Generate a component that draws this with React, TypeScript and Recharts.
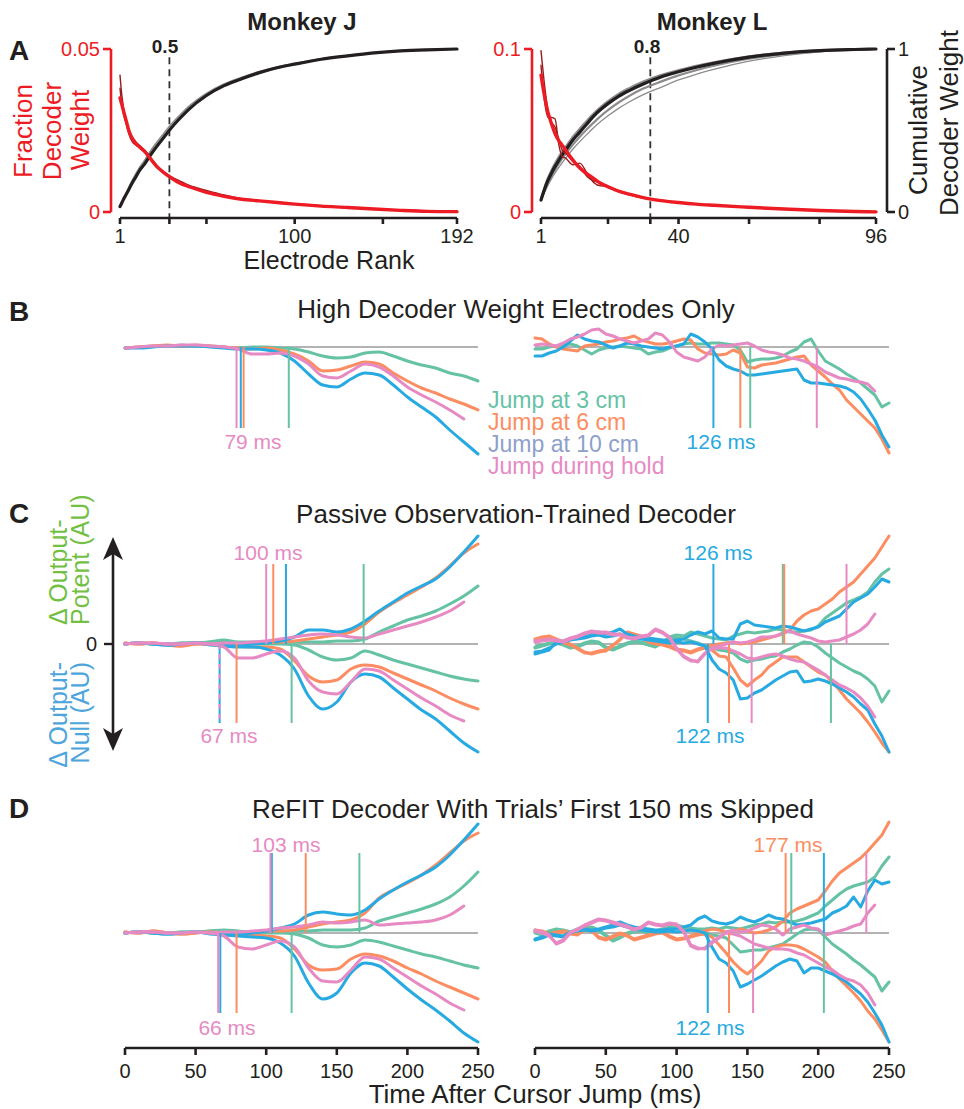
import React from 'react';
import { LineChart, Line, XAxis, YAxis, ReferenceLine } from 'recharts';

const FONT = "'Liberation Sans', Arial, Helvetica, sans-serif";
const GREEN = '#66c2a5';
const ORANGE = '#fc8d62';
const BLUE = '#27aae1';
const PINK = '#e78ac3';
const LAVENDER = '#8da0cb';
const RED = '#ed1c24';
const DARKRED = '#9b1c1f';
const INK = '#231f20';
const GREY = '#8c8c8c';
const ZERO = '#9a9a9a';
const COND_COLORS = [GREEN, ORANGE, BLUE, PINK];

// ---------- Panel A data ----------
const rankJ = [1, 2, 3, 4, 5, 6, 8, 10, 12, 15, 18, 22, 26, 30, 35, 40, 50, 60, 70, 80, 90, 100, 115, 130, 145, 160, 175, 192];
const fracJ = [0.035, 0.033, 0.031, 0.029, 0.027, 0.025, 0.0225, 0.021, 0.02, 0.0185, 0.0165, 0.0139, 0.012, 0.0105, 0.0088, 0.0078, 0.006, 0.0048, 0.0039, 0.0034, 0.0029, 0.0024, 0.0018, 0.0014, 0.0009, 0.0005, 0.0002, 0.0001];
const fracJb = [0.042, 0.036, 0.032, 0.029, 0.026, 0.024, 0.0215, 0.0205, 0.0198, 0.019, 0.017, 0.0142, 0.0118, 0.0102, 0.0092, 0.008, 0.0063, 0.0049, 0.004, 0.0034, 0.0028, 0.0024, 0.0018, 0.0013, 0.0009, 0.0005, 0.0002, 0.0001];
const fracJc = [0.038, 0.033, 0.03, 0.028, 0.0265, 0.025, 0.023, 0.0215, 0.0205, 0.0188, 0.0162, 0.0135, 0.0122, 0.0108, 0.0095, 0.0082, 0.0066, 0.0052, 0.0041, 0.0034, 0.0029, 0.0025, 0.0019, 0.0014, 0.001, 0.0006, 0.0003, 0.0001];
const cumJ = [0.033, 0.055, 0.078, 0.098, 0.118, 0.138, 0.18, 0.215, 0.253, 0.295, 0.345, 0.405, 0.46, 0.515, 0.575, 0.63, 0.715, 0.775, 0.818, 0.855, 0.885, 0.907, 0.937, 0.958, 0.976, 0.988, 0.995, 1];
const cumJb = [0.035, 0.06, 0.085, 0.105, 0.128, 0.15, 0.195, 0.235, 0.272, 0.318, 0.37, 0.43, 0.485, 0.538, 0.595, 0.648, 0.728, 0.785, 0.826, 0.862, 0.89, 0.911, 0.94, 0.96, 0.977, 0.989, 0.996, 1];

const rankL = [1, 2, 3, 4, 5, 6, 7, 8, 10, 12, 14, 16, 18, 20, 23, 26, 30, 35, 40, 45, 50, 60, 70, 80, 90, 96];
const fracL = [0.084, 0.071, 0.061, 0.054, 0.048, 0.044, 0.041, 0.038, 0.032, 0.027, 0.0235, 0.0205, 0.0175, 0.0155, 0.0128, 0.011, 0.0088, 0.007, 0.0058, 0.0048, 0.0041, 0.0029, 0.0018, 0.0009, 0.0003, 0.0001];
const fracLb = [0.099, 0.078, 0.062, 0.055, 0.052, 0.045, 0.038, 0.036, 0.031, 0.028, 0.022, 0.019, 0.018, 0.015, 0.013, 0.011, 0.009, 0.0072, 0.006, 0.0049, 0.0042, 0.003, 0.0019, 0.001, 0.0004, 0.0001];
const fracLc = [0.09, 0.068, 0.058, 0.058, 0.057, 0.042, 0.034, 0.033, 0.029, 0.03, 0.024, 0.018, 0.016, 0.0158, 0.0125, 0.0105, 0.0085, 0.0068, 0.0056, 0.0047, 0.004, 0.0028, 0.0017, 0.0009, 0.0003, 0.0001];
const cumL = [0.074, 0.14, 0.195, 0.24, 0.28, 0.315, 0.35, 0.38, 0.44, 0.49, 0.54, 0.59, 0.63, 0.665, 0.71, 0.745, 0.785, 0.828, 0.86, 0.888, 0.912, 0.95, 0.975, 0.99, 0.997, 1];
const cumLb = [0.07, 0.12, 0.165, 0.205, 0.24, 0.272, 0.302, 0.33, 0.385, 0.432, 0.476, 0.518, 0.556, 0.59, 0.636, 0.675, 0.72, 0.765, 0.81, 0.845, 0.875, 0.925, 0.96, 0.983, 0.995, 1];
const cumLc = [0.07, 0.13, 0.18, 0.222, 0.26, 0.295, 0.328, 0.357, 0.412, 0.462, 0.508, 0.55, 0.59, 0.625, 0.672, 0.712, 0.757, 0.8, 0.838, 0.87, 0.897, 0.94, 0.968, 0.986, 0.996, 1];
const cumLd = [0.08, 0.15, 0.21, 0.258, 0.3, 0.337, 0.37, 0.4, 0.46, 0.512, 0.56, 0.605, 0.645, 0.68, 0.725, 0.76, 0.8, 0.84, 0.87, 0.897, 0.918, 0.955, 0.978, 0.992, 0.998, 1];

const rankTicksJ = [1, 29, 50, 100, 150, 192];
const rankLabelsJ = [1, 100, 192];
const rankTicksL = [1, 20, 32, 40, 60, 80, 96];
const rankLabelsL = [1, 40, 96];
const halfWeightRankJ = 29;
const eightyWeightRankL = 32;

// ---------- Time-course data ----------
const tCoarse = [0, 10, 20, 30, 40, 50, 60, 70, 80, 90, 100, 110, 120, 130, 140, 150, 160, 170, 180, 190, 200, 210, 220, 230, 240, 250];
const tFine = [0, 5, 10, 15, 20, 25, 30, 35, 40, 45, 50, 55, 60, 65, 70, 75, 80, 85, 90, 95, 100, 105, 110, 115, 120, 125, 130, 135, 140, 145, 150, 155, 160, 165, 170, 175, 180, 185, 190, 195, 200, 205, 210, 215, 220, 225, 230, 235, 240, 245, 250];
const timeTicks = [0, 50, 100, 150, 200, 250];

// B: high decoder weight electrodes only (single projection)
const bLg = [-1, 0, 1, 1, 2, 1, 1, 0, -1, 0, 0, -1, -2, -5, -9, -11, -10, -6, -5, -9, -14, -18, -21, -26, -29, -34];
const bLo = [-1, 0, 1, 2, 1, 2, 1, 0, -1, -2, -1, -3, -7, -14, -24, -23, -19, -15, -17, -26, -34, -41, -46, -52, -57, -63];
const bLb = [-1, -1, 0, 1, 1, 1, 0, -1, -2, -2, -3, -6, -14, -27, -38, -40, -32, -26, -28, -38, -50, -60, -70, -83, -95, -107];
const bLp = [-1, 0, 1, 1, 2, 2, 1, 0, -2, -7, -7, -6, -9, -17, -29, -31, -24, -17, -20, -29, -40, -48, -55, -63, -72, null];

const bRg = [-2, -2, 0, 1, 2, 3, 1, -3, -7, -3, -1, 0, 1, 0, -1, -2, -7, -5, -4, -1, 1, 3, 4, 3, 3, 4, 4, 3, 2, -3, -15, -13, -12, -12, -11, -9, -5, -2, 5, 8, -4, -14, -18, -22, -27, -31, -36, -42, -48, -60, -56];
const bRo = [9, 8, 3, 0, -2, -3, -4, 1, 2, 3, 5, 6, 8, 9, 11, 7, 5, 3, 3, 4, 6, 8, 7, -2, -6, -7, -8, -7, -3, -6, -20, -21, -18, -17, -16, -14, -12, -10, -9, -18, -24, -30, -37, -43, -53, -60, -67, -74, -81, -92, -106];
const bRb = [-9, -9, -6, -4, 0, 6, 12, 8, 6, 5, 2, -1, 1, 4, 3, 1, 0, -1, -2, 0, 1, 3, 13, 10, 5, -2, -13, -19, -22, -24, -28, -28, -27, -26, -25, -24, -23, -22, -33, -36, -36, -37, -38, -39, -41, -45, -52, -62, -73, -88, -100];
const bRp = [2, 3, 2, 1, 4, 8, 10, 13, 17, 18, 13, 11, 8, 6, 4, 6, 8, 14, 12, 5, -5, -10, -12, -14, -10, -2, 2, 1, 2, 3, 4, 1, -3, -5, -6, -8, -11, -12, -14, -17, -20, -25, -28, -31, -32, -34, -35, -37, -44, null, null];

// C: passive observation-trained decoder (P = output-potent, N = output-null)
const cLgP = [0, 1, 0, 0, 1, 1, 2, 4, 2, 2, 2, 2, 2, 2, 2, 3, 3, 5, 12, 18, 24, 28, 33, 40, 48, 58];
const cLoP = [1, 0, 1, -1, -2, 0, 0, -1, 0, 1, 2, 2, 3, 5, 7, 9, 12, 20, 32, 41, 49, 57, 66, 78, 91, 100];
const cLbP = [0, 1, 0, -1, 0, 1, 0, -1, -1, 0, 1, 3, 7, 14, 14, 12, 15, 23, 33, 42, 51, 58, 65, 77, 92, 108];
const cLpP = [0, 1, 1, 0, 0, 1, 0, 1, 1, 2, 3, 5, 7, 9, 10, 9, 7, 6, 10, 14, 18, 22, 27, 33, 42, null];
const cLgN = [0, 1, 0, 0, 1, 1, 2, 2, 1, 0, 0, 0, -1, -6, -13, -16, -14, -7, -11, -16, -20, -24, -28, -32, -35, -37];
const cLoN = [1, 0, 1, -1, -2, 0, 0, -1, -2, -3, -3, -5, -17, -32, -38, -36, -25, -21, -23, -29, -35, -41, -47, -54, -60, -65];
const cLbN = [0, 1, 0, -1, 0, 1, -1, -2, -3, -3, -5, -11, -25, -52, -65, -58, -38, -30, -33, -44, -55, -66, -75, -87, -99, -108];
const cLpN = [0, 1, 1, 0, 0, 1, 0, -3, -14, -14, -10, -7, -14, -37, -48, -50, -38, -25, -27, -36, -45, -54, -62, -71, -77, null];

const cRgP = [-4, -2, 0, 2, 0, -3, -2, 1, 3, 2, -3, -5, -2, 1, 3, 2, 0, -2, 2, 7, 9, 8, 12, 10, 8, 6, 5, 4, 8, 10, 12, 11, 12, 13, 15, 14, 12, 12, 13, 14, 18, 26, 31, 36, 41, 44, 47, 52, 62, 70, 75];
const cRoP = [5, 7, 8, 5, 2, 0, -4, -8, -10, -8, -7, -2, 5, 12, 10, 8, 3, 1, 0, -2, -5, -6, -8, -5, -3, -1, 0, 1, 2, 0, 1, 2, 4, 6, 8, 10, 14, 23, 29, 33, 35, 40, 45, 52, 57, 62, 70, 78, 86, 97, 108];
const cRbP = [-10, -8, -6, 2, 3, 5, 6, 8, 10, 12, 10, 12, 15, 10, 8, 7, 6, 5, 4, 3, 4, 5, 9, 12, 10, 13, 6, 5, 5, 20, 23, 19, 18, 17, 16, 18, 17, 15, 13, 15, 17, 22, 25, 28, 35, 42, 46, 50, 57, 65, 62];
const cRpP = [3, 4, 5, 4, 3, 6, 8, 11, 13, 12, 12, 10, 10, 7, 6, 8, 9, 15, 12, 7, -4, -12, -16, -18, -10, -4, -2, 0, 2, 1, 2, 4, 7, 7, 8, 11, 13, 10, 8, 6, 3, 2, 3, 4, 7, 10, 14, 20, 30, null, null];
const cRgN = [-3, -1, 1, 1, -1, -4, -3, 0, 2, 1, -4, -6, -3, 0, 2, 1, -1, -3, 1, 5, 6, 5, 3, 1, -2, -4, -6, -7, -9, -15, -18, -16, -15, -13, -12, -8, -5, -1, 2, 1, -3, -9, -14, -19, -23, -27, -30, -35, -42, -58, -47];
const cRoN = [4, 6, 7, 4, 1, -1, -5, -9, -9, -7, -6, -1, 4, 11, 9, 7, 2, 0, -1, -3, -6, -7, -9, -6, -4, -6, -12, -13, -24, -36, -42, -36, -31, -23, -18, -13, -13, -13, -18, -23, -28, -31, -38, -46, -55, -62, -69, -78, -88, -99, -108];
const cRbN = [-8, -7, -4, 0, 2, 4, 5, 6, 8, 9, 7, 8, 10, 7, 6, 5, 4, 3, 2, 1, 2, 1, 2, 0, -2, -16, -25, -29, -36, -55, -54, -49, -46, -41, -36, -32, -28, -27, -38, -37, -35, -37, -40, -44, -48, -53, -60, -66, -80, -92, -108];
const cRpN = [2, 3, 4, 3, 2, 5, 7, 10, 12, 11, 11, 9, 9, 6, 5, 7, 8, 14, 11, 6, -5, -13, -17, -17, -9, -5, -4, -4, -7, -10, -14, -15, -13, -11, -10, -12, -15, -17, -18, -22, -26, -31, -36, -41, -44, -48, -54, -62, -73, null, null];

// D: ReFIT decoder, first 150 ms skipped
const dLgP = [0, 1, 0, 0, 1, 1, 2, 3, 2, 1, 1, 2, 2, 2, 3, 3, 3, 5, 12, 16, 20, 24, 29, 36, 47, 61];
const dLoP = [1, 0, 2, 0, -1, 0, 1, 0, 0, 1, 2, 2, 3, 6, 9, 11, 13, 20, 35, 43, 50, 58, 68, 80, 92, 100];
const dLbP = [0, 1, 0, -1, 0, 1, 0, -1, -1, 0, 2, 5, 9, 18, 21, 19, 18, 23, 34, 43, 51, 58, 66, 78, 93, 109];
const dLpP = [0, 1, 1, 0, 0, 1, 0, 1, 1, 2, 3, 5, 6, 8, 11, 10, 11, 13, 8, 9, 10, 11, 13, 18, 27, null];
const dLgN = [0, 1, 0, 0, 1, 1, 2, 2, 1, 0, 0, 0, -1, -5, -12, -14, -12, -7, -9, -13, -17, -21, -24, -28, -32, -35];
const dLoN = [1, 0, 2, 0, -1, 0, 1, 0, -1, -2, -3, -5, -16, -32, -37, -36, -26, -21, -23, -28, -35, -41, -48, -54, -60, -66];
const dLbN = [0, 1, 0, -1, 0, 1, -1, -2, -3, -4, -5, -10, -23, -50, -66, -60, -40, -30, -33, -44, -56, -67, -77, -88, -100, -109];
const dLpN = [0, 1, 1, 0, 0, 1, 0, -3, -14, -16, -12, -8, -14, -35, -48, -49, -37, -24, -26, -35, -44, -53, -61, -70, -77, null];

const dRgP = [0, -2, 1, 3, 2, 0, 3, 5, 6, 3, -2, -7, -4, 0, 2, 3, 1, 2, 4, 6, 8, 6, 5, 4, 4, 5, 4, 6, 5, 4, 6, 8, 9, 11, 10, 11, 11, 12, 14, 17, 20, 27, 33, 39, 44, 47, 49, 51, 56, 67, 76];
const dRoP = [3, 2, -1, 1, 2, 0, -1, 4, 3, -4, -6, -3, 0, -2, -6, -4, -2, 0, 1, -3, -6, -5, -3, 0, 2, 4, 3, 1, 2, 4, 2, 0, 1, 3, 6, 12, 20, 24, 27, 30, 33, 42, 52, 60, 65, 70, 75, 82, 90, 98, 111];
const dRbP = [-7, -5, -2, -3, -4, 0, 3, 4, 3, 4, 6, 8, 11, 8, 6, 5, 4, 3, 3, 4, 4, 6, 8, 14, 17, 12, 10, 9, 11, 16, 13, 11, 14, 18, 15, 14, 11, 8, 9, 10, 12, 14, 20, 23, 27, 36, 26, 42, 53, 49, 51];
const dRpP = [3, 1, -2, -11, -8, 0, 4, 8, 11, 14, 13, 11, 9, 7, 4, 6, 11, 9, 8, 10, 9, 2, -12, -15, -16, -10, -5, 1, 3, 1, 2, 5, 8, 7, 4, -2, 4, 6, 8, 5, 4, -2, 0, 2, 4, 7, 9, 20, 28, null, null];
const dRgN = [1, -1, 2, 4, 3, 1, 4, 6, 5, 2, -3, -8, -5, -1, 1, 2, 0, 1, 3, 5, 6, 4, 3, 1, 0, -2, -3, -5, -12, -19, -18, -17, -17, -15, -13, -11, -6, -1, 3, 4, 3, -4, -11, -16, -21, -27, -32, -38, -44, -58, -49];
const dRoN = [2, 1, -2, 0, 1, -1, -2, 3, 2, -5, -7, -4, -1, -3, -7, -5, -3, -1, 0, -4, -7, -6, -4, -2, -1, -4, -12, -20, -29, -36, -41, -35, -28, -18, -14, -12, -12, -13, -16, -20, -24, -29, -38, -46, -53, -60, -68, -78, -86, -97, -109];
const dRbN = [-6, -4, -1, -2, -3, 1, 2, 3, 2, 3, 5, 6, 8, 6, 4, 3, 2, 1, 1, 2, 1, 2, 3, 2, 0, -14, -26, -30, -38, -54, -51, -47, -43, -38, -33, -29, -26, -28, -40, -35, -35, -38, -41, -45, -49, -55, -61, -69, -80, -92, -109];
const dRpN = [2, 0, -3, -10, -7, 1, 3, 7, 10, 13, 12, 10, 8, 6, 3, 5, 10, 8, 7, 9, 8, 1, -13, -16, -15, -9, -4, 0, -1, -3, -7, -11, -13, -15, -16, -16, -17, -20, -22, -26, -30, -34, -37, -42, -46, -48, -52, -60, -72, null, null];

// Divergence onsets (ms), order: 3 cm, 6 cm, 10 cm, during hold
const bLeftOnsetN = [116, 84, 82, 79];
const bRightOnsetN = [152, 145, 126, 199];
const cLeftOnsetP = [169, 105, 114, 100];
const cLeftOnsetN = [118, 79, 67, 67];
const cRightOnsetP = [175, 176, 126, 220];
const cRightOnsetN = [209, 137, 122, 153];
const dLeftOnsetP = [166, 128, 104, 103];
const dLeftOnsetN = [118, 79, 67.5, 66];
const dRightOnsetP = [181, 177, 204, 234];
const dRightOnsetN = [204, 137, 122, 154];

const legendLabels = ['Jump at 3 cm', 'Jump at 6 cm', 'Jump at 10 cm', 'Jump during hold'];

// ---------- tables built from arrays ----------
const J_DATA = rankJ.map((r, i) => ({ r, f: fracJ[i], f2: fracJb[i], f3: fracJc[i], c: cumJ[i], c2: cumJb[i] }));
const L_DATA = rankL.map((r, i) => ({ r, f: fracL[i], f2: fracLb[i], f3: fracLc[i], c: cumL[i], c2: cumLb[i], c3: cumLc[i], c4: cumLd[i] }));

const single = (ts: number[], g: any[], o: any[], b: any[], p: any[]) =>
  ts.map((t, i) => ({ t, g: g[i], o: o[i], b: b[i], p: p[i] }));
const dual = (ts: number[], P: any[][], N: any[][]) =>
  ts.map((t, i) => ({
    t,
    gP: P[0][i], oP: P[1][i], bP: P[2][i], pP: P[3][i],
    gN: N[0][i], oN: N[1][i], bN: N[2][i], pN: N[3][i],
  }));

const B_LEFT = single(tCoarse, bLg, bLo, bLb, bLp);
const B_RIGHT = single(tFine, bRg, bRo, bRb, bRp);
const C_LEFT = dual(tCoarse, [cLgP, cLoP, cLbP, cLpP], [cLgN, cLoN, cLbN, cLpN]);
const C_RIGHT = dual(tFine, [cRgP, cRoP, cRbP, cRpP], [cRgN, cRoN, cRbN, cRpN]);
const D_LEFT = dual(tCoarse, [dLgP, dLoP, dLbP, dLpP], [dLgN, dLoN, dLbN, dLpN]);
const D_RIGHT = dual(tFine, [dRgP, dRoP, dRbP, dRpP], [dRgN, dRoN, dRbN, dRpN]);

const SINGLE_KEYS = ['g', 'o', 'b', 'p'];
const SINGLE_COLORS = [GREEN, ORANGE, BLUE, PINK];
const DUAL_KEYS = ['gP', 'gN', 'oP', 'oN', 'bP', 'bN', 'pP', 'pN'];
const DUAL_COLORS = [GREEN, GREEN, ORANGE, ORANGE, BLUE, BLUE, PINK, PINK];

// ---------- tick renderers ----------
const makeRankTick = (labels: number[]) => (props: any) => {
  const { x, y, payload } = props;
  if (!labels.includes(payload.value)) return <g />;
  return (
    <text x={x} y={y + 25} textAnchor="middle" fontSize={20} fill={INK} fontFamily={FONT}>
      {payload.value}
    </text>
  );
};
const fracTick = (props: any) => (
  <text x={props.x - 10} y={props.y} dy="0.36em" textAnchor="end" fontSize={20} fill={RED} fontFamily={FONT}>
    {props.payload.value}
  </text>
);
const cumTick = (props: any) => (
  <text x={props.x + 12} y={props.y} dy="0.36em" textAnchor="start" fontSize={20} fill={INK} fontFamily={FONT}>
    {props.payload.value}
  </text>
);
const timeTick = (props: any) => (
  <text x={props.x} y={props.y + 23} textAnchor="middle" fontSize={20} fill={INK} fontFamily={FONT}>
    {props.payload.value}
  </text>
);
const zeroTick = (props: any) => (
  <text x={props.x - 19} y={props.y} dy="0.36em" textAnchor="end" fontSize={20} fill={INK} fontFamily={FONT}>
    {props.payload.value}
  </text>
);

const lineProps = { dot: false, activeDot: false, isAnimationActive: false, strokeLinejoin: 'round' as const, strokeLinecap: 'round' as const };

function TimePanel(props: any) {
  const { left, top, width, height, margin, domain, data, keys, colors, lineType, up, down, upTo, downTo, xAxis, zero, dashedPink } = props;
  return (
    <div style={{ position: 'absolute', left, top }}>
      <LineChart width={width} height={height} data={data} margin={margin}>
        {xAxis ? (
          <XAxis
            type="number"
            dataKey="t"
            domain={[0, 250]}
            ticks={timeTicks}
            interval={0}
            height={40}
            tickSize={7}
            tickMargin={0}
            stroke={INK}
            axisLine={{ stroke: INK, strokeWidth: 2.6 }}
            tickLine={{ stroke: INK, strokeWidth: 2.6 }}
            tick={timeTick}
          />
        ) : (
          <XAxis type="number" dataKey="t" domain={[0, 250]} hide />
        )}
        {zero ? (
          <YAxis
            type="number"
            domain={domain}
            ticks={[0]}
            interval={0}
            width={30}
            tickSize={9}
            tickMargin={0}
            axisLine={false}
            tickLine={{ stroke: INK, strokeWidth: 2.4, transform: 'translate(-12,0)' }}
            tick={zeroTick}
          />
        ) : (
          <YAxis type="number" domain={domain} hide />
        )}
        <ReferenceLine y={0} stroke={ZERO} strokeWidth={1.6} />
        {keys.map((k: string, i: number) => (
          <Line key={k} dataKey={k} type={lineType} stroke={colors[i]} strokeWidth={3} {...lineProps} />
        ))}
        {(up || []).map((t: number, i: number) => (
          <ReferenceLine
            key={'u' + i}
            segment={[{ x: t, y: 0 }, { x: t, y: upTo }]}
            stroke={COND_COLORS[i]}
            strokeWidth={2}
            ifOverflow="visible"
          />
        ))}
        {(down || []).map((t: number, i: number) => (
          <ReferenceLine
            key={'d' + i}
            segment={[{ x: t, y: 0 }, { x: t, y: downTo }]}
            stroke={COND_COLORS[i]}
            strokeWidth={2}
            strokeDasharray={dashedPink && i === 3 ? '5 5' : undefined}
            ifOverflow="visible"
          />
        ))}
      </LineChart>
    </div>
  );
}

function T(props: any) {
  const { x, y, children, size = 26, fill = INK, anchor = 'middle', weight = 'normal', rotate } = props;
  if (rotate) {
    return (
      <text transform={`translate(${x},${y}) rotate(-90)`} textAnchor={anchor} fontSize={size} fill={fill} fontWeight={weight} fontFamily={FONT}>
        {children}
      </text>
    );
  }
  return (
    <text x={x} y={y} textAnchor={anchor} fontSize={size} fill={fill} fontWeight={weight} fontFamily={FONT}>
      {children}
    </text>
  );
}

const LEFT_M = { left: 125, right: 22 };
const RIGHT_M = { left: 35, right: 75 };

export default function App() {
  return (
    <div style={{ position: 'absolute', left: 0, top: 0, width: 964, height: 1109, background: '#fff', fontFamily: FONT, overflow: 'hidden' }}>
      {/* Panel A - Monkey J */}
      <div style={{ position: 'absolute', left: 0, top: 0 }}>
        <LineChart width={480} height={280} data={J_DATA} margin={{ top: 49, right: 23, bottom: 28, left: 80 }}>
          <XAxis
            type="number"
            dataKey="r"
            domain={[1, 192]}
            ticks={rankTicksJ}
            interval={0}
            height={40}
            tickSize={6}
            tickMargin={0}
            stroke={INK}
            axisLine={{ stroke: INK, strokeWidth: 2.6, transform: 'translate(0,6)' }}
            tickLine={{ stroke: INK, strokeWidth: 2.6, transform: 'translate(0,6)' }}
            tick={makeRankTick(rankLabelsJ)}
          />
          <YAxis
            yAxisId="frac"
            type="number"
            domain={[0, 0.05]}
            ticks={[0, 0.05]}
            interval={0}
            width={40}
            tickSize={8}
            tickMargin={2}
            stroke={RED}
            axisLine={{ stroke: RED, strokeWidth: 2.6, transform: 'translate(-9,0)' }}
            tickLine={{ stroke: RED, strokeWidth: 2.6, transform: 'translate(-9,0)' }}
            tick={fracTick}
          />
          <YAxis yAxisId="cum" orientation="right" type="number" domain={[0, 1]} hide />
          <ReferenceLine
            yAxisId="frac"
            segment={[{ x: halfWeightRankJ, y: 0.0475 }, { x: halfWeightRankJ, y: -0.0018 }]}
            stroke="#333"
            strokeWidth={1.8}
            strokeDasharray="7 5"
            ifOverflow="visible"
          />
          <Line yAxisId="cum" dataKey="c2" type="monotone" stroke={GREY} strokeWidth={1.6} {...lineProps} />
          <Line yAxisId="cum" dataKey="c" type="monotone" stroke={INK} strokeWidth={3.2} {...lineProps} />
          <Line yAxisId="frac" dataKey="f2" type="monotone" stroke={DARKRED} strokeWidth={1.4} {...lineProps} />
          <Line yAxisId="frac" dataKey="f3" type="monotone" stroke={DARKRED} strokeWidth={1.4} {...lineProps} />
          <Line yAxisId="frac" dataKey="f" type="monotone" stroke={RED} strokeWidth={3.4} {...lineProps} />
        </LineChart>
      </div>

      {/* Panel A - Monkey L */}
      <div style={{ position: 'absolute', left: 480, top: 0 }}>
        <LineChart width={484} height={280} data={L_DATA} margin={{ top: 49, right: 48, bottom: 28, left: 21 }}>
          <XAxis
            type="number"
            dataKey="r"
            domain={[1, 96]}
            ticks={rankTicksL}
            interval={0}
            height={40}
            tickSize={6}
            tickMargin={0}
            stroke={INK}
            axisLine={{ stroke: INK, strokeWidth: 2.6, transform: 'translate(0,6)' }}
            tickLine={{ stroke: INK, strokeWidth: 2.6, transform: 'translate(0,6)' }}
            tick={makeRankTick(rankLabelsL)}
          />
          <YAxis
            yAxisId="frac"
            type="number"
            domain={[0, 0.1]}
            ticks={[0, 0.1]}
            interval={0}
            width={40}
            tickSize={8}
            tickMargin={2}
            stroke={RED}
            axisLine={{ stroke: RED, strokeWidth: 2.6, transform: 'translate(-9,0)' }}
            tickLine={{ stroke: RED, strokeWidth: 2.6, transform: 'translate(-9,0)' }}
            tick={fracTick}
          />
          <YAxis
            yAxisId="cum"
            orientation="right"
            type="number"
            domain={[0, 1]}
            ticks={[0, 1]}
            interval={0}
            width={40}
            tickSize={8}
            tickMargin={2}
            stroke={INK}
            axisLine={{ stroke: INK, strokeWidth: 2.6, transform: 'translate(11,0)' }}
            tickLine={{ stroke: INK, strokeWidth: 2.6, transform: 'translate(11,0)' }}
            tick={cumTick}
          />
          <ReferenceLine
            yAxisId="cum"
            segment={[{ x: eightyWeightRankL, y: 0.95 }, { x: eightyWeightRankL, y: -0.036 }]}
            stroke="#333"
            strokeWidth={1.8}
            strokeDasharray="7 5"
            ifOverflow="visible"
          />
          <Line yAxisId="cum" dataKey="c2" type="monotone" stroke={GREY} strokeWidth={1.3} {...lineProps} />
          <Line yAxisId="cum" dataKey="c3" type="monotone" stroke={GREY} strokeWidth={2.2} {...lineProps} />
          <Line yAxisId="cum" dataKey="c4" type="monotone" stroke={GREY} strokeWidth={2.2} {...lineProps} />
          <Line yAxisId="cum" dataKey="c" type="monotone" stroke={INK} strokeWidth={3.2} {...lineProps} />
          <Line yAxisId="frac" dataKey="f2" type="monotone" stroke={DARKRED} strokeWidth={1.4} {...lineProps} />
          <Line yAxisId="frac" dataKey="f3" type="monotone" stroke={DARKRED} strokeWidth={1.4} {...lineProps} />
          <Line yAxisId="frac" dataKey="f" type="monotone" stroke={RED} strokeWidth={3.4} {...lineProps} />
        </LineChart>
      </div>

      {/* Panel B */}
      <TimePanel left={0} top={300} width={500} height={170} margin={{ top: 7, bottom: 13, ...LEFT_M }} domain={[-110, 40]}
        data={B_LEFT} keys={SINGLE_KEYS} colors={SINGLE_COLORS} lineType="monotone" down={bLeftOnsetN} downTo={-81} />
      <TimePanel left={500} top={300} width={464} height={170} margin={{ top: 7, bottom: 13, ...RIGHT_M }} domain={[-110, 40]}
        data={B_RIGHT} keys={SINGLE_KEYS} colors={SINGLE_COLORS} lineType="linear" down={bRightOnsetN} downTo={-81} />

      {/* Panel C */}
      <TimePanel left={0} top={530} width={500} height={230} margin={{ top: 4, bottom: 6, left: 95, right: 22 }} domain={[-110, 110]}
        data={C_LEFT} keys={DUAL_KEYS} colors={DUAL_COLORS} lineType="monotone" up={cLeftOnsetP} upTo={80} down={cLeftOnsetN} downTo={-79} zero dashedPink />
      <TimePanel left={500} top={530} width={464} height={230} margin={{ top: 4, bottom: 6, ...RIGHT_M }} domain={[-110, 110]}
        data={C_RIGHT} keys={DUAL_KEYS} colors={DUAL_COLORS} lineType="linear" up={cRightOnsetP} upTo={80} down={cRightOnsetN} downTo={-79} />

      {/* Panel D */}
      <TimePanel left={0} top={815} width={500} height={294} margin={{ top: 3, bottom: 21, ...LEFT_M }} domain={[-115, 115]}
        data={D_LEFT} keys={DUAL_KEYS} colors={DUAL_COLORS} lineType="monotone" up={dLeftOnsetP} upTo={80} down={dLeftOnsetN} downTo={-80} xAxis />
      <TimePanel left={500} top={815} width={464} height={294} margin={{ top: 3, bottom: 21, ...RIGHT_M }} domain={[-115, 115]}
        data={D_RIGHT} keys={DUAL_KEYS} colors={DUAL_COLORS} lineType="linear" up={dRightOnsetP} upTo={80} down={dRightOnsetN} downTo={-80} xAxis />

      {/* Text & decorations */}
      <svg width={964} height={1109} style={{ position: 'absolute', left: 0, top: 0, pointerEvents: 'none' }}>
        {/* Panel A */}
        <T x={9} y={60} size={28} weight="bold" anchor="start">A</T>
        <T x={302} y={30} size={24} weight="bold">Monkey J</T>
        <T x={712} y={30} size={24} weight="bold">Monkey L</T>
        <T x={165} y={53} size={19} weight="bold">0.5</T>
        <T x={647} y={53} size={19} weight="bold">0.8</T>
        <T x={329} y={269} size={25}>Electrode Rank</T>
        <T x={32} y={131} fill={RED} rotate>Fraction</T>
        <T x={61} y={131} fill={RED} rotate>Decoder</T>
        <T x={89} y={130} fill={RED} rotate>Weight</T>
        <T x={927} y={130} rotate>Cumulative</T>
        <T x={958} y={123} rotate>Decoder Weight</T>

        {/* Panel B */}
        <T x={9} y={321} size={28} weight="bold" anchor="start">B</T>
        <T x={516} y={318}>High Decoder Weight Electrodes Only</T>
        {legendLabels.map((s, i) => (
          <T key={s} x={488} y={408 + i * 22} size={23} anchor="start" fill={[GREEN, ORANGE, LAVENDER, PINK][i]}>{s}</T>
        ))}
        <T x={253} y={449} size={21} fill={PINK}>79 ms</T>
        <T x={721} y={449} size={21} fill={BLUE}>126 ms</T>

        {/* Panel C */}
        <T x={9} y={523} size={28} weight="bold" anchor="start">C</T>
        <T x={516} y={523}>Passive Observation-Trained Decoder</T>
        <T x={268} y={560} size={21} fill={PINK}>100 ms</T>
        <T x={229} y={743} size={21} fill={PINK}>67 ms</T>
        <T x={718} y={560} size={21} fill={BLUE}>126 ms</T>
        <T x={710} y={743} size={21} fill={BLUE}>122 ms</T>
        <T x={67} y={625} size={25} fill="#72bf44" anchor="start" rotate>Δ Output-</T>
        <T x={89} y={625} size={25} fill="#72bf44" anchor="start" rotate>Potent (AU)</T>
        <T x={67} y={662} size={25} fill="#4ea5dd" anchor="end" rotate>Δ Output-</T>
        <T x={89} y={662} size={25} fill="#4ea5dd" anchor="end" rotate>Null (AU)</T>
        <line x1={113} y1={552} x2={113} y2={736} stroke={INK} strokeWidth={2.6} />
        <polygon points="113,537 123,560 113,554 103,560" fill={INK} />
        <polygon points="113,751 123,728 113,734 103,728" fill={INK} />

        {/* Panel D */}
        <T x={9} y={818} size={28} weight="bold" anchor="start">D</T>
        <T x={533} y={818}>ReFIT Decoder With Trials’ First 150 ms Skipped</T>
        <T x={286} y={852} size={21} fill={PINK}>103 ms</T>
        <T x={227} y={1035} size={21} fill={PINK}>66 ms</T>
        <T x={788} y={852} size={21} fill={ORANGE}>177 ms</T>
        <T x={710} y={1035} size={21} fill={BLUE}>122 ms</T>
        <T x={535} y={1103}>Time After Cursor Jump (ms)</T>
      </svg>
    </div>
  );
}
